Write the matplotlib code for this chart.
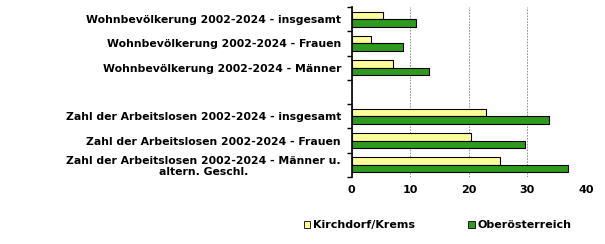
import matplotlib.pyplot as plt
import numpy as np
from matplotlib.patches import Patch

categories = [
    'Wohnbevölkerung 2002-2024 - insgesamt',
    'Wohnbevölkerung 2002-2024 - Frauen',
    'Wohnbevölkerung 2002-2024 - Männer',
    '',
    'Zahl der Arbeitslosen 2002-2024 - insgesamt',
    'Zahl der Arbeitslosen 2002-2024 - Frauen',
    'Zahl der Arbeitslosen 2002-2024 - Männer u.\naltern. Geschl.',
]
kirchdorf = [5.3, 3.4, 7.1, np.nan, 23.0, 20.3, 25.3]
ooe = [11.0, 8.8, 13.3, np.nan, 33.7, 29.6, 37.0]
xticks = [0, 10, 20, 30, 40]

yellow = '#ffff99'
green = '#2e9a1e'

plt.rcParams['font.family'] = 'DejaVu Sans'
plt.rcParams['font.weight'] = 'bold'
plt.rcParams['font.size'] = 8

fig = plt.figure(figsize=(6.05, 2.44), dpi=100)
ax = fig.add_axes([0.581, 0.2746, 0.3876, 0.6967])

y = np.arange(len(categories))
h = 0.31
ax.barh(y - h / 2, kirchdorf, height=h, color=yellow, edgecolor='black', linewidth=0.8, zorder=3)
ax.barh(y + h / 2, ooe, height=h, color=green, edgecolor='black', linewidth=0.8, zorder=3)

ax.set_ylim(len(categories) - 0.5, -0.5)
ax.set_xlim(0, 40)
ax.set_xticks(xticks)
ax.set_yticks(y)
ax.set_yticklabels(categories, multialignment='center', fontsize=7.8)
ax.set_yticks(np.arange(len(categories) + 1) - 0.5, minor=True)
ax.tick_params(axis='y', which='major', length=0, pad=7.5)
ax.tick_params(axis='y', which='minor', length=3.6, width=1, color='black')
ax.tick_params(axis='x', length=0, pad=6)

for s in ['top', 'right', 'bottom']:
    ax.spines[s].set_visible(False)
ax.spines['left'].set_linewidth(1.2)
ax.grid(axis='x', color='#808080', linestyle=(0, (2, 1.5)), linewidth=0.6, zorder=0)
ax.yaxis.grid(False)

handles = [Patch(facecolor=yellow, edgecolor='black', linewidth=0.6),
           Patch(facecolor=green, edgecolor='black', linewidth=0.6)]
fig.legend(handles, ['Kirchdorf/Krems', 'Oberösterreich'], ncol=2, frameon=False,
           loc='center left', bbox_to_anchor=(0.502, 0.078),
           handlelength=0.6, handleheight=0.6, handletextpad=0.25, columnspacing=4.8,
           borderpad=0, borderaxespad=0)

fig.savefig('out.png', dpi=100)
